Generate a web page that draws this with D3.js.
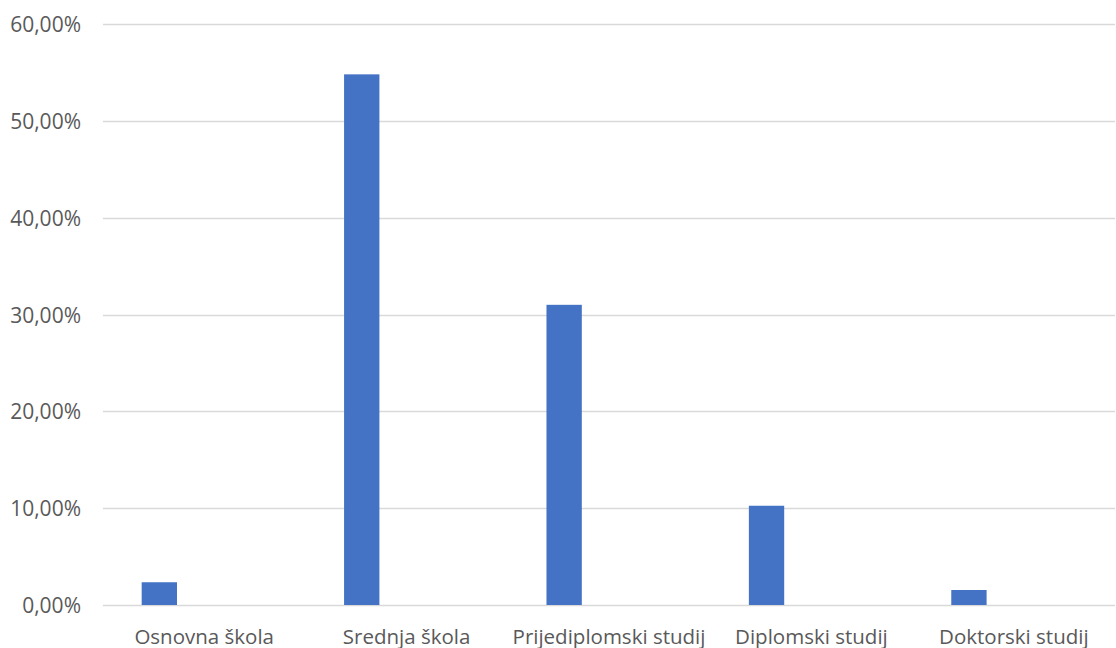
<!DOCTYPE html>
<html>
<head>
<meta charset="utf-8">
<script src="https://cdn.jsdelivr.net/npm/d3@7"></script>
<style>
  html, body { margin: 0; padding: 0; background: #ffffff; }
  svg { display: block; }
  text { font-family: "Open Sans", sans-serif; fill: #595959; }
</style>
</head>
<body>
<svg id="chart" width="1116" height="648"></svg>
<script>
// Data
const categories = ["Osnovna škola", "Srednja škola", "Prijediplomski studij", "Diplomski studij", "Doktorski studij"];
const values = [0.0235, 0.548, 0.310, 0.1025, 0.0155];
// the source is a clustered column chart with three series slots, only the first one filled
const seriesSlots = ["Serija 1", "Serija 2", "Serija 3"];
const yTicks = [0, 0.1, 0.2, 0.3, 0.4, 0.5, 0.6];

const svg = d3.select("#chart");
const margin = { left: 103, right: 1, top: 24, bottom: 43 };
const W = 1116, H = 648;

const x0 = d3.scaleBand()
  .domain(categories)
  .range([margin.left, W - margin.right])
  .paddingInner(0).paddingOuter(0);

const x1 = d3.scaleBand()
  .domain(seriesSlots)
  .range([0, x0.bandwidth()])
  .paddingInner(0.2126)
  .paddingOuter(0.862);

const y = d3.scaleLinear().domain([0, 0.6]).range([H - margin.bottom, margin.top]);

const fmt = v => d3.format(".2f")(v * 100).replace(".", ",") + "%";

// gridlines
svg.append("g")
  .selectAll("line")
  .data(yTicks)
  .join("line")
  .attr("x1", margin.left)
  .attr("x2", W - margin.right)
  .attr("y1", d => Math.round(y(d)) + 0.5)
  .attr("y2", d => Math.round(y(d)) + 0.5)
  .attr("stroke", "#d9d9d9")
  .attr("stroke-width", 1.5);

// y axis labels
const yAxis = d3.axisLeft(y).tickValues(yTicks).tickFormat(fmt).tickSize(0).tickPadding(0);
const gy = svg.append("g").attr("transform", "translate(81,0)").call(yAxis);
gy.select(".domain").remove();
gy.selectAll("text")
  .attr("font-family", "Open Sans")
  .attr("font-size", 21)
  .attr("fill", "#595959")
  .attr("dy", "0.36em");

// bars
svg.append("g")
  .selectAll("rect")
  .data(categories.map((c, i) => ({ c, v: values[i] })))
  .join("rect")
  .attr("x", d => x0(d.c) + x1(seriesSlots[0]))
  .attr("width", x1.bandwidth())
  .attr("y", d => y(d.v))
  .attr("height", d => y(0) - y(d.v))
  .attr("fill", "#4472c4");

// x axis labels
const xAxis = d3.axisBottom(x0).tickSize(0).tickPadding(0);
const gx = svg.append("g").attr("transform", `translate(0,${H - margin.bottom})`).call(xAxis);
gx.select(".domain").remove();
gx.selectAll("text")
  .attr("font-family", "Open Sans")
  .attr("font-size", 20.5)
  .attr("fill", "#595959")
  .attr("dy", null)
  .attr("y", 38.5);
</script>
</body>
</html>
